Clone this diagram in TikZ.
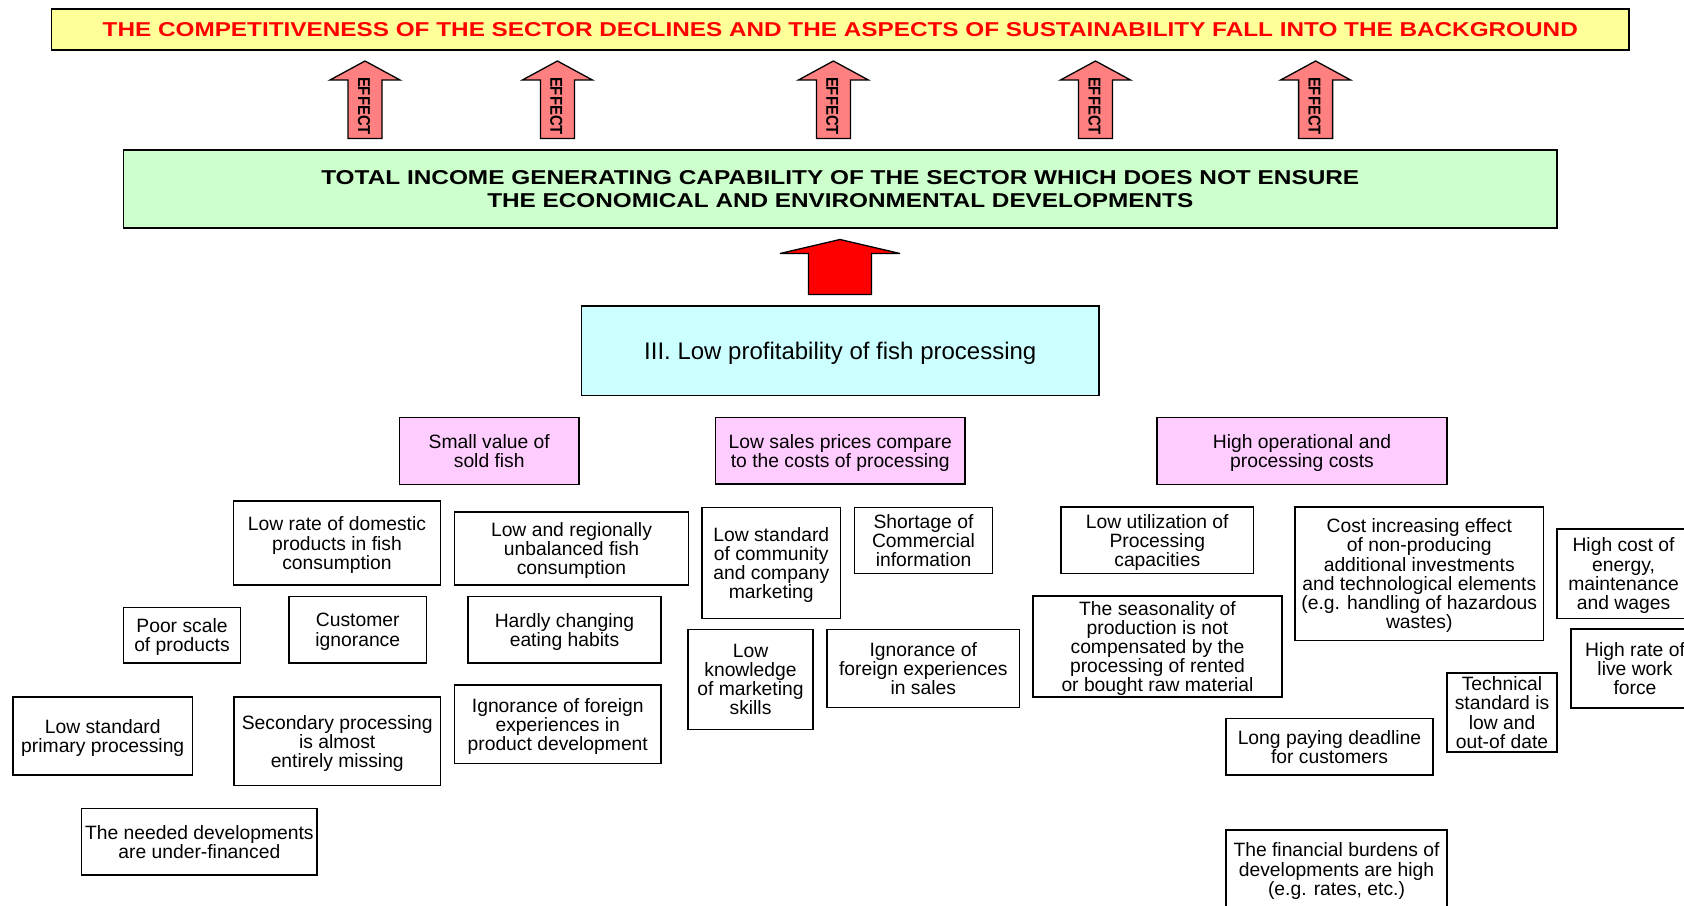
\documentclass[tikz,border=0pt]{standalone}
\usepackage{fontspec}
\setmainfont{Liberation Sans}
\usepackage{graphicx}
\definecolor{ybg}{HTML}{FFFF99}
\definecolor{gbg}{HTML}{CCFFCC}
\definecolor{cbg}{HTML}{CCFFFF}
\definecolor{pbg}{HTML}{FFCCFF}
\definecolor{effred}{HTML}{FF8080}
\definecolor{titlered}{HTML}{FF0000}
\tikzset{
  frame/.style={draw=black, line width=1.5pt, inner sep=0pt, align=center},
  box/.style={frame, fill=white, font=\fontsize{19.3}{19.2}\selectfont, text depth=0pt},
  pinkbox/.style={box, fill=pbg},
  cyanbox/.style={frame, fill=cbg, font=\fontsize{24}{28}\selectfont, text depth=0pt},
  greenbox/.style={frame, fill=gbg, font=\fontsize{20}{23}\selectfont},
  titlebox/.style={frame, fill=ybg, text=titlered},
  effarrow/.style={draw=black, line width=1.3pt, fill=effred, line join=miter},
  redarrow/.style={draw=black, line width=1.3pt, fill=red, line join=miter, miter limit=6},
  efftext/.style={rotate=-90, inner sep=0pt}
}
\begin{document}
\begin{tikzpicture}[x=1pt,y=-1pt]
\clip (0,0) rectangle (1684,905);
\fill[white] (0,0) rectangle (1684,905);

% top title
\node[titlebox, minimum width=1577.5pt, minimum height=41pt] (title) at (840.25,29.5)
  {\resizebox{1475pt}{14pt}{\bfseries THE COMPETITIVENESS OF THE SECTOR DECLINES AND THE ASPECTS OF SUSTAINABILITY FALL INTO THE BACKGROUND}};

% effect arrows
\foreach \x/\n in {365/a,557.4/b,833.4/c,1095.5/d,1315.6/e}{
  \draw[effarrow] (\x-17,138.5) -- (\x-17,80) -- (\x-35,80) -- (\x,61) -- (\x+35,80) -- (\x+17,80) -- (\x+17,138.5) -- cycle;
  \node[efftext] (eff\n) at (\x-1,106) {\resizebox{58pt}{12pt}{\bfseries EFFECT}};
}

% green box
\node[greenbox, minimum width=1433.5pt, minimum height=78pt] (green) at (840.25,189)
  {\resizebox{1038pt}{14pt}{\bfseries TOTAL INCOME GENERATING CAPABILITY OF THE SECTOR WHICH DOES NOT ENSURE}\\
   \resizebox{706pt}{14pt}{\bfseries THE ECONOMICAL AND ENVIRONMENTAL DEVELOPMENTS}};

% red arrow
\draw[redarrow] (808.5,294.5) -- (808.5,253.5) -- (780,253.5) -- (840,239.5) -- (900,253.5) -- (871.5,253.5) -- (871.5,294.5) -- cycle;

% cyan box
\node[cyanbox, minimum width=517.5pt, minimum height=89.5pt] (main) at (840.25,350.75)
  {III. Low profitability of fish processing};

% pink boxes
\node[pinkbox, minimum width=179.5pt, minimum height=67pt] (small) at (489.25,451) {Small value of\\sold fish};
\node[pinkbox, minimum width=249.5pt, minimum height=66.5pt] (sales) at (840.25,450.75) {Low sales prices compare\\to the costs of processing};
\node[pinkbox, minimum width=290pt, minimum height=67pt] (costs) at (1302,451) {High operational and\\processing costs};

% left group
\node[box, minimum width=207pt, minimum height=84pt] (lowrate) at (337,543) {Low rate of domestic\\products in fish\\consumption};
\node[box, minimum width=234pt, minimum height=73pt] (lowreg) at (571.5,548.5) {Low and regionally\\unbalanced fish\\consumption};
\node[box, minimum width=117pt, minimum height=55.5pt] (poor) at (182,635.25) {Poor scale\\of products};
\node[box, minimum width=137.5pt, minimum height=66.5pt] (customer) at (357.75,629.75) {Customer\\ignorance};
\node[box, minimum width=193pt, minimum height=66.5pt] (hardly) at (564.5,629.75) {Hardly changing\\eating habits};
\node[box, minimum width=179.5pt, minimum height=78pt] (lowprim) at (102.75,736) {Low standard\\primary processing};
\node[box, minimum width=206.5pt, minimum height=88.5pt] (secondary) at (337.25,741.25) {Secondary processing\\is almost\\entirely missing};
\node[box, minimum width=206.5pt, minimum height=78.5pt] (ignprod) at (557.75,724.25) {Ignorance of foreign\\experiences in\\product development};
\node[box, minimum width=235.3pt, minimum height=66.5pt] (needed) at (199.35,841.75) {The needed developments\\are under-financed};

% middle group
\node[box, minimum width=138.5pt, minimum height=111pt] (lowcomm) at (771.25,563) {Low standard\\of community\\and company\\marketing};
\node[box, minimum width=138pt, minimum height=66pt] (shortage) at (923.5,540.5) {Shortage of\\Commercial\\information};
\node[box, minimum width=125pt, minimum height=100pt] (lowknow) at (750.5,679.5) {Low\\knowledge\\of marketing\\skills};
\node[box, minimum width=192.5pt, minimum height=78pt] (ignsales) at (923.25,668.5) {Ignorance of\\foreign experiences\\in sales};

% right group
\node[box, minimum width=192.5pt, minimum height=66.5pt] (lowutil) at (1157.25,540.25) {Low utilization of\\Processing\\capacities};
\node[box, minimum width=248.5pt, minimum height=133.5pt] (costinc) at (1419.25,573.75) {Cost increasing effect\\of non-producing\\additional investments\\and technological elements\\(e.g. handling of hazardous\\wastes)};
\node[box, minimum width=133pt, minimum height=89.5pt] (highcost) at (1623.5,573.75) {High cost of\\energy,\\maintenance\\and wages};
\node[box, minimum width=128pt, minimum height=79pt] (highrate) at (1635,668.5) {High rate of\\live work\\force};
\node[box, minimum width=249pt, minimum height=101pt] (season) at (1157.5,646.5) {The seasonality of\\production is not\\compensated by the\\processing of rented\\or bought raw material};
\node[box, minimum width=110pt, minimum height=79pt] (technical) at (1502,712.5) {Technical\\standard is\\low and\\out-of date};
\node[box, minimum width=207pt, minimum height=56.5pt] (longpay) at (1329.5,746.75) {Long paying deadline\\for customers};
\node[box, minimum width=221pt, minimum height=78pt] (financial) at (1336.5,869) {The financial burdens of\\developments are high\\(e.g. rates, etc.)};
\end{tikzpicture}
\end{document}
